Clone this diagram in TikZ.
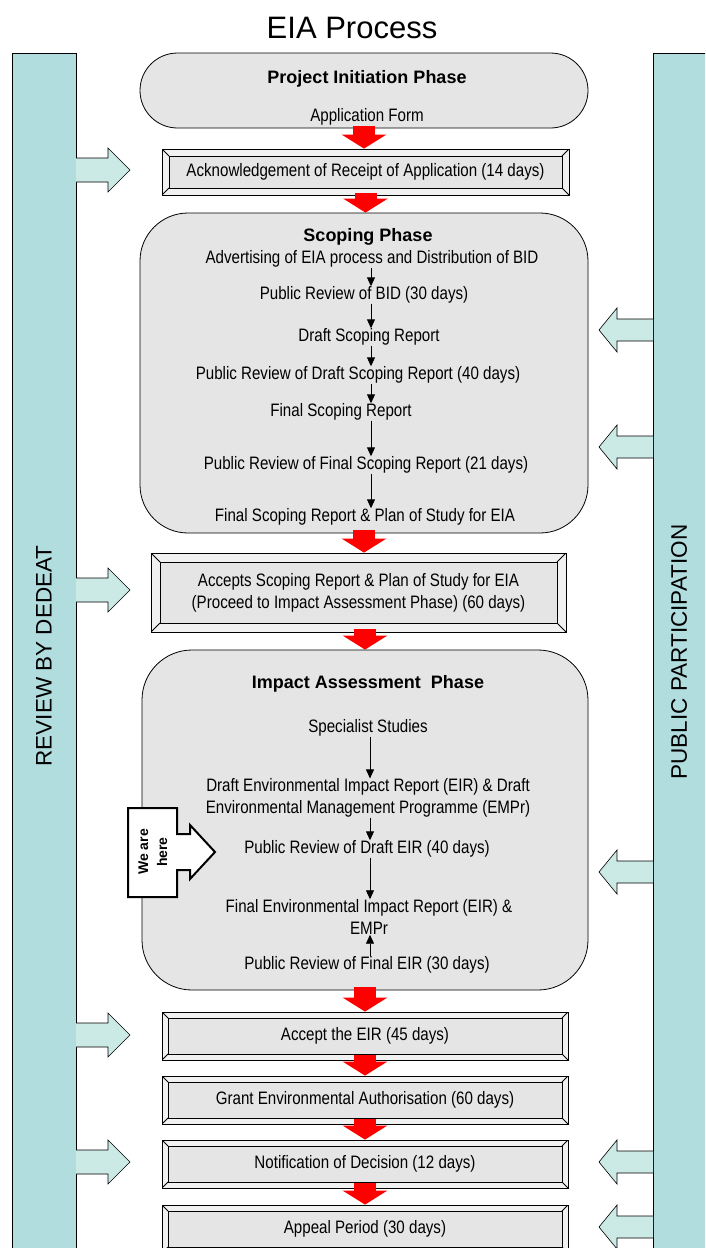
\documentclass[tikz,border=0pt]{standalone}
\usepackage{fontspec}
\setmainfont{Liberation Sans}
\newfontfamily\narrowfont{Liberation Sans}[FakeStretch=0.84]
\usetikzlibrary{arrows.meta}

\definecolor{barteal}{RGB}{178,221,223}
\definecolor{arrteal}{RGB}{203,233,229}
\definecolor{boxgray}{RGB}{229,229,229}
\definecolor{bevgray}{RGB}{241,241,241}

\tikzset{
  phase/.style={draw, line width=.8pt, fill=boxgray},
  frame/.style={draw, line width=.8pt, fill=bevgray, inner sep=0, align=center,
    font=\narrowfont\fontsize{18}{22}\selectfont,
    path picture={
      \draw[fill=boxgray] ([shift={(#1,-#1)}]path picture bounding box.north west)
        rectangle ([shift={(-#1,#1)}]path picture bounding box.south east);
      \draw (path picture bounding box.north west) -- ++(#1,-#1)
            (path picture bounding box.north east) -- ++(-#1,-#1)
            (path picture bounding box.south west) -- ++(#1,#1)
            (path picture bounding box.south east) -- ++(-#1,#1);
    }},
  frame/.default=6pt,
  txt/.style={inner sep=0, text height=13pt, text depth=4pt,
    font=\narrowfont\fontsize{18}{22}\selectfont},
  txtm/.style={inner sep=0, align=center, font=\narrowfont\fontsize{18}{22}\selectfont},
  head/.style={inner sep=0, font=\bfseries\fontsize{18}{22}\selectfont},
  blk/.style={-{Triangle[width=8pt,length=9pt]}, line width=.9pt},
  redarr/.style={-{Triangle[width=44pt,length=14pt]}, line width=22pt, red},
  tealarr/.style={draw, line width=.6pt, fill=arrteal},
  bartxt/.style={rotate=90, inner sep=0, font=\fontsize{22.5}{27}\selectfont}
}

\begin{document}
\begin{tikzpicture}[x=1pt, y=-1pt]
  \useasboundingbox (0,0) rectangle (705,1248);
  \clip (0,0) rectangle (705,1248);
  \fill[white] (0,0) rectangle (705,1248);

  \node[inner sep=0, font=\fontsize{31}{36}\selectfont] (ttl) at (352,28) {EIA Process};

  \fill[barteal] (12,53) rectangle (76,1260);
  \draw[line width=.8pt] (12,1260) -- (12,53) -- (76,53) -- (76,1260);
  \fill[barteal] (653,53) rectangle (720,1260);
  \draw[line width=.8pt] (720,53) -- (653,53) -- (653,1260);
  \node[bartxt] (dedeat) at (44,656) {REVIEW BY DEDEAT};
  \node[bartxt] (pubpart) at (679,652) {PUBLIC PARTICIPATION};

  \draw[tealarr] (76,158) -- ++(32,0) -- ++(0,-10) -- ++(22,22) -- ++(-22,22) -- ++(0,-10) -- ++(-32,0);
  \draw[tealarr] (76,578) -- ++(32,0) -- ++(0,-10) -- ++(22,22) -- ++(-22,22) -- ++(0,-10) -- ++(-32,0);
  \draw[tealarr] (76,1023) -- ++(32,0) -- ++(0,-10) -- ++(22,22) -- ++(-22,22) -- ++(0,-10) -- ++(-32,0);
  \draw[tealarr] (76,1150) -- ++(32,0) -- ++(0,-10) -- ++(22,22) -- ++(-22,22) -- ++(0,-10) -- ++(-32,0);

  \draw[tealarr] (653,319) -- ++(-36,0) -- ++(0,-11) -- ++(-18,22) -- ++(18,22) -- ++(0,-11) -- ++(36,0);
  \draw[tealarr] (653,436) -- ++(-36,0) -- ++(0,-11) -- ++(-18,22) -- ++(18,22) -- ++(0,-11) -- ++(36,0);
  \draw[tealarr] (653,861) -- ++(-36,0) -- ++(0,-11) -- ++(-18,22) -- ++(18,22) -- ++(0,-11) -- ++(36,0);
  \draw[tealarr] (653,1151) -- ++(-36,0) -- ++(0,-11) -- ++(-18,22) -- ++(18,22) -- ++(0,-11) -- ++(36,0);
  \draw[tealarr] (653,1216) -- ++(-36,0) -- ++(0,-11) -- ++(-18,22) -- ++(18,22) -- ++(0,-11) -- ++(36,0);

  \node[phase, minimum width=448pt, minimum height=75pt, rounded corners=37.5pt] (init) at (364,90.5) {};
  \node[head] (inith) at (367,79) {Project Initiation Phase};
  \node[txt] (appf) at (367,117) {Application Form};

  \node[frame=7pt, minimum width=407pt, minimum height=46pt] (ack) at (365.5,172)
    {Acknowledgement of Receipt of Application (14 days)};

  \node[phase, minimum width=448pt, minimum height=320pt, rounded corners=48pt] (scop) at (364,373) {};
  \coordinate (sax) at (371,0);
  \node[head] (scoph) at (368,237) {Scoping Phase};
  \node[txt] (adv) at (372,259) {Advertising of EIA process and Distribution of BID};
  \node[txt] (prbid) at (364,295) {Public Review of BID (30 days)};
  \node[txt] (dsr) at (369,337) {Draft Scoping Report};
  \node[txt] (prdsr) at (358,375) {Public Review of Draft Scoping Report (40 days)};
  \node[txt] (fsr) at (341,412) {Final Scoping Report};
  \node[txt] (prfsr) at (366,465) {Public Review of Final Scoping Report (21 days)};
  \node[txt] (fsp) at (365,517) {Final Scoping Report \& Plan of Study for EIA};
  \draw[blk] (adv.south -| sax) -- (prbid.north -| sax);
  \draw[blk] (prbid.south -| sax) -- (dsr.north -| sax);
  \draw[blk] (dsr.south -| sax) -- (prdsr.north -| sax);
  \draw[blk] (prdsr.south -| sax) -- (fsr.north -| sax);
  \draw[blk] (fsr.south -| sax) -- (prfsr.north -| sax);
  \draw[blk] (prfsr.south -| sax) -- (fsp.north -| sax);

  \node[frame=9pt, minimum width=415pt, minimum height=79pt] (accp) at (358.5,592.5)
    {Accepts Scoping Report \& Plan of Study for EIA\\(Proceed to Impact Assessment Phase) (60 days)};

  \node[phase, minimum width=446pt, minimum height=340pt, rounded corners=50pt] (imp) at (365,820) {};
  \coordinate (iax) at (370,0);
  \node[head] (imph) at (368,684) {Impact Assessment \ Phase};
  \node[txt] (spec) at (368,728) {Specialist Studies};
  \node[txtm] (drft) at (368,798) {Draft Environmental Impact Report (EIR) \& Draft\\Environmental Management Programme (EMPr)};
  \node[txt] (prdeir) at (367,849) {Public Review of Draft EIR (40 days)};
  \node[txtm] (feir) at (369,917) {Final Environmental Impact Report (EIR) \&\\EMPr};
  \node[txt] (prfeir) at (367,965) {Public Review of Final EIR (30 days)};
  \draw[blk] (spec.south -| iax) -- (drft.north -| iax);
  \draw[blk] (drft.south -| iax) -- (prdeir.north -| iax);
  \draw[blk] (prdeir.south -| iax) -- (feir.north -| iax);
  \draw[blk] (prfeir.north -| iax) -- (feir.south -| iax);

  \draw[fill=white, line width=2pt] (128,808) -- (177,808) -- (177,834) -- (190,834) -- (190,825)
    -- (215,852) -- (190,879) -- (190,870) -- (177,870) -- (177,897) -- (128,897) -- cycle;
  \node[rotate=90, align=center, inner sep=0, font=\bfseries\fontsize{14}{19}\selectfont] (here) at (153,852) {We are\\here};

  \node[frame, minimum width=406pt, minimum height=48pt] (acceir) at (365,1036) {Accept the EIR (45 days)};
  \node[frame, minimum width=406pt, minimum height=48pt] (grant) at (365,1100) {Grant Environmental Authorisation (60 days)};
  \node[frame, minimum width=406pt, minimum height=48pt] (notif) at (365,1164) {Notification of Decision (12 days)};
  \node[frame, minimum width=406pt, minimum height=48pt] (appeal) at (365,1229) {Appeal Period (30 days)};

  \draw[redarr] ([yshift=2pt]init.south) -- (init.south |- ack.north);
  \draw[redarr] ([yshift=2pt]ack.south) -- (ack.south |- scop.north);
  \draw[redarr] ([yshift=3pt]scop.south) -- (scop.south |- accp.north);
  \draw[redarr] ([yshift=3pt]accp.south -| imp.north) -- (imp.north);
  \draw[redarr] ([yshift=3pt]imp.south) -- (imp.south |- acceir.north);
  \draw[redarr] ([yshift=5pt]acceir.south) -- (acceir.south |- grant.north);
  \draw[redarr] ([yshift=5pt]grant.south) -- (grant.south |- notif.north);
  \draw[redarr] ([yshift=5pt]notif.south) -- (notif.south |- appeal.north);
\end{tikzpicture}
\end{document}
